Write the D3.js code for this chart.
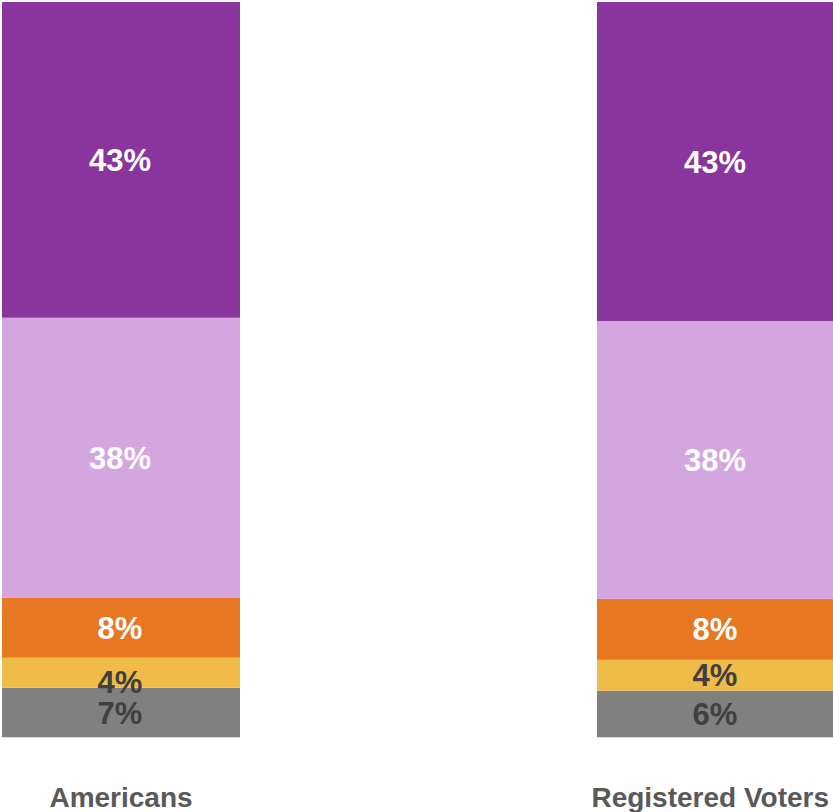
<!DOCTYPE html>
<html>
<head>
<meta charset="utf-8">
<script src="https://cdn.jsdelivr.net/npm/d3@7"></script>
<style>
  html, body { margin: 0; padding: 0; background: #ffffff; }
  svg { display: block; }
</style>
</head>
<body>
<svg id="chart" width="833" height="812"></svg>
<script>
// Groups shown as 100% stacked columns
const groups = ["Americans", "Registered Voters"];

// Response segments, bottom to top
const segments = ["s1", "s2", "s3", "s4", "s5"];
const segmentColors = ["#808080", "#F0BC48", "#E87722", "#D4A6E0", "#8A359E"];
const labelColors = ["#404040", "#404040", "#ffffff", "#ffffff", "#ffffff"];

// Percent values per group, bottom to top (labels show them rounded)
const americans = [6.7, 4.1, 8.2, 38.1, 43.0];
const registeredVoters = [6.3, 4.2, 8.3, 37.8, 43.4];
const seriesValues = [americans, registeredVoters];

const W = 833, H = 812;
const plotTop = 2, plotBottom = 737;

const svg = d3.select("#chart");

const x = d3.scaleBand()
  .domain(groups)
  .range([2, 835])
  .paddingInner(0.6)
  .paddingOuter(0);

const pct = v => d3.format(".0f")(v) + "%";

// Small vertical nudge for labels that would crowd a neighbour
function labelNudge(gi, si) {
  return (gi === 0 && si === 1) ? 9 : 0;
}

groups.forEach((g, gi) => {
  const vals = seriesValues[gi];
  const total = d3.sum(vals);
  const y = d3.scaleLinear().domain([0, total]).range([plotBottom, plotTop]);

  const stacked = [];
  let acc = 0;
  vals.forEach((v, si) => {
    stacked.push({ si, v, y0: acc, y1: acc + v });
    acc += v;
  });

  const grp = svg.append("g");

  // faint base edge under the column
  grp.append("rect")
    .attr("x", x(g))
    .attr("y", plotBottom)
    .attr("width", x.bandwidth())
    .attr("height", 1)
    .attr("fill", "#d9d9d9");

  grp.selectAll("rect.seg")
    .data(stacked)
    .join("rect")
    .attr("class", "seg")
    .attr("x", x(g))
    .attr("width", x.bandwidth())
    .attr("y", d => y(d.y1))
    .attr("height", d => y(d.y0) - y(d.y1))
    .attr("fill", d => segmentColors[d.si]);

  grp.selectAll("text.val")
    .data(stacked)
    .join("text")
    .attr("class", "val")
    .attr("x", x(g) + x.bandwidth() / 2 - 1)
    .attr("y", d => (y(d.y0) + y(d.y1)) / 2 + labelNudge(gi, d.si))
    .attr("dy", "0.36em")
    .attr("text-anchor", "middle")
    .attr("font-family", "'Liberation Sans', Arial, sans-serif")
    .attr("font-weight", "bold")
    .attr("font-size", 31)
    .attr("fill", d => labelColors[d.si])
    .text(d => pct(d.v));
});

// Category labels below the columns, kept inside the canvas
svg.selectAll("text.cat")
  .data(groups)
  .join("text")
  .attr("class", "cat")
  .attr("y", 807)
  .attr("text-anchor", "middle")
  .attr("font-family", "'Liberation Sans', Arial, sans-serif")
  .attr("font-weight", "bold")
  .attr("font-size", 28)
  .attr("fill", "#595959")
  .text(d => d)
  .each(function(d) {
    const el = d3.select(this);
    const w = this.getComputedTextLength();
    let cx = x(d) + x.bandwidth() / 2;
    if (cx + w / 2 > W - 4) cx = W - 4 - w / 2;
    el.attr("x", cx);
  });
</script>
</body>
</html>
